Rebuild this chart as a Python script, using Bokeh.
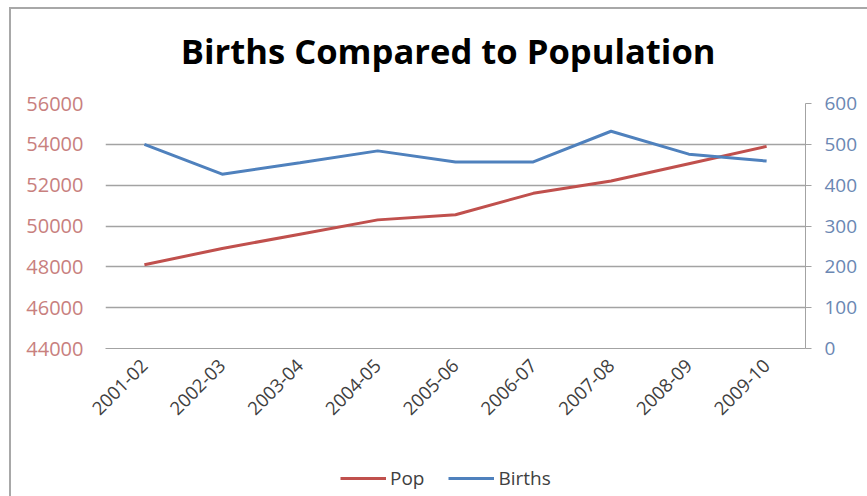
import math
import numpy as np
from bokeh.plotting import figure
from bokeh.layouts import column
from bokeh.core.properties import value
from bokeh.models import (Range1d, LinearAxis, FixedTicker, Legend, LegendItem)
from bokeh.embed import file_html
from bokeh.resources import INLINE

# Financial years
years = ["2001-02", "2002-03", "2003-04", "2004-05", "2005-06",
         "2006-07", "2007-08", "2008-09", "2009-10"]
# Population (left axis)
pop = [48100, 48900, 49600, 50300, 50550, 51600, 52200, 53050, 53900]
# Births (right axis)
births = [500, 427, 455, 484, 457, 457, 532, 476, 459]

pop_ticks = [44000, 46000, 48000, 50000, 52000, 54000, 56000]
birth_ticks = [0, 100, 200, 300, 400, 500, 600]

TITLE = "Births Compared to Population"

RED = "#c0504d"
BLUE = "#4f81bd"
GRID = "#a3a3a3"
TEXT = "#404040"
FONT = "Open Sans"
W = 856

# header strip: pixel-sized ranges so the heading sits exactly where wanted
hd = figure(width=W, height=70, output_backend="svg", toolbar_location=None,
            x_axis_type=None, y_axis_type=None,
            x_range=Range1d(0, W), y_range=Range1d(0, 70), min_border=0)
hd.outline_line_color = None
hd.xgrid.grid_line_color = None
hd.ygrid.grid_line_color = None
hd.text(x=[419], y=[29.4], text=[TITLE], text_align="center",
        text_baseline="alphabetic", text_font=value(FONT),
        text_font_style="bold", text_font_size="34.6px", text_color="black")

p = figure(x_range=years, y_range=Range1d(44000, 56000),
           width=W, height=365, output_backend="svg",
           toolbar_location=None,
           min_border_left=94, min_border_right=62,
           min_border_top=24, min_border_bottom=96)
p.outline_line_color = None
p.background_fill_color = "white"
p.border_fill_color = "white"

p.extra_y_ranges = {"births": Range1d(0, 600)}

# left axis: population
ya = p.yaxis[0]
ya.ticker = FixedTicker(ticks=pop_ticks)
ya.axis_line_color = None
ya.major_tick_line_color = None
ya.minor_tick_line_color = None
ya.major_label_text_color = "#c8807e"
ya.major_label_text_font = FONT
ya.major_label_text_font_size = "20px"
ya.major_label_standoff = 16

# right axis: births
ra = LinearAxis(y_range_name="births", ticker=FixedTicker(ticks=birth_ticks))
ra.axis_line_color = GRID
ra.major_tick_line_color = GRID
ra.major_tick_out = 6
ra.major_tick_in = 0
ra.minor_tick_line_color = None
ra.major_label_text_color = "#6b87b3"
ra.major_label_text_font = FONT
ra.major_label_text_font_size = "19px"
ra.major_label_standoff = 13
p.add_layout(ra, "right")

xa = p.xaxis[0]
xa.axis_line_color = GRID
xa.major_tick_line_color = None
xa.minor_tick_line_color = None
xa.major_label_orientation = math.pi / 4
xa.major_label_text_color = TEXT
xa.major_label_text_font = FONT
xa.major_label_text_font_size = "18.5px"
xa.major_label_standoff = 8

p.xgrid.grid_line_color = None
p.ygrid.grid_line_color = GRID
p.ygrid.grid_line_width = 1.5

p.line(years, pop, line_color=RED, line_width=3)
p.line(years, births, line_color=BLUE, line_width=3, y_range_name="births")

# legend strip under the chart; its two line renderers hold no drawable points
lg = figure(width=W, height=52, output_backend="svg", toolbar_location=None,
            x_axis_type=None, y_axis_type=None,
            x_range=Range1d(0, 1), y_range=Range1d(0, 1), min_border=0)
lg.outline_line_color = None
lg.xgrid.grid_line_color = None
lg.ygrid.grid_line_color = None
k_pop = lg.line(x=np.array([np.nan]), y=np.array([np.nan]),
                line_color=RED, line_width=3)
k_births = lg.line(x=np.array([np.nan]), y=np.array([np.nan]),
                   line_color=BLUE, line_width=3)
legend = Legend(items=[LegendItem(label="Pop", renderers=[k_pop]),
                       LegendItem(label="Births", renderers=[k_births])],
                orientation="horizontal", location=(235, 5),
                border_line_color=None, background_fill_alpha=0,
                glyph_width=46, label_text_font=FONT,
                label_text_font_size="19px", label_text_color=TEXT,
                spacing=24, padding=2, margin=0, label_standoff=4)
lg.add_layout(legend, "center")

page = column(hd, p, lg, margin=(7, 0, 0, 9),
              styles={"border-left": "2px solid #a8a8a8",
                      "border-top": "2px solid #a8a8a8"})

open("out.html", "w").write(file_html(page, INLINE))
